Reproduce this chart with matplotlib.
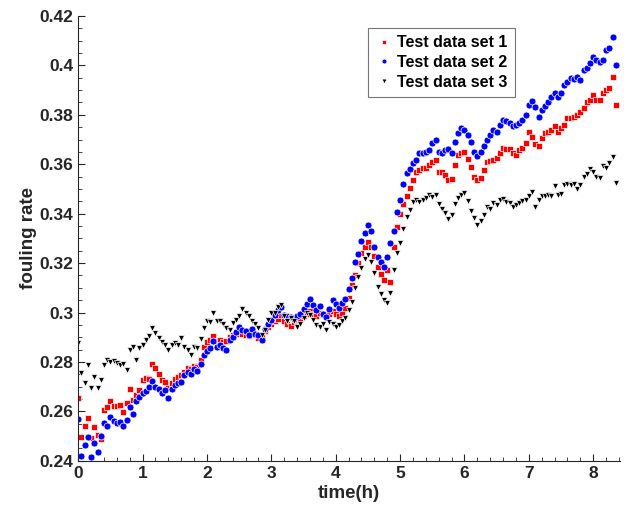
import numpy as np
import matplotlib
matplotlib.use("Agg")
import matplotlib.pyplot as plt
from matplotlib.ticker import MultipleLocator

plt.rcParams['font.family'] = ['Liberation Sans', 'DejaVu Sans']
plt.rcParams['font.weight'] = 'bold'

# fouling rate samples, one every 0.05 h from t = 0
set1 = [0.2654, 0.2498, 0.2542, 0.2572, 0.2492, 0.2538, 0.2503, 0.2490, 0.2605, 0.2617,
        0.2640, 0.2620, 0.2620, 0.2625, 0.2596, 0.2634, 0.2690, 0.2648, 0.2667, 0.2687,
        0.2728, 0.2735, 0.2730, 0.2791, 0.2775, 0.2752, 0.2728, 0.2720, 0.2694, 0.2715,
        0.2730, 0.2741, 0.2748, 0.2761, 0.2775, 0.2770, 0.2785, 0.2780, 0.2808, 0.2862,
        0.2880, 0.2890, 0.2906, 0.2885, 0.2890, 0.2880, 0.2885, 0.2900, 0.2910, 0.2915,
        0.2925, 0.2915, 0.2910, 0.2905, 0.2920, 0.2910, 0.2895, 0.2900, 0.2925, 0.2940,
        0.2955, 0.2965, 0.2975, 0.2990, 0.2965, 0.2955, 0.2945, 0.2960, 0.2970, 0.2975,
        0.2985, 0.2995, 0.3005, 0.2995, 0.2985, 0.3000, 0.2990, 0.2985, 0.2995, 0.3005,
        0.2995, 0.2985, 0.3000, 0.3018, 0.3060, 0.3110, 0.3152, 0.3200, 0.3240, 0.3267,
        0.3287, 0.3265, 0.3230, 0.3186, 0.3155, 0.3132, 0.3174, 0.3125, 0.3267, 0.3345,
        0.3400, 0.3440, 0.3470, 0.3502, 0.3537, 0.3570, 0.3577, 0.3584, 0.3584, 0.3598,
        0.3611, 0.3618, 0.3570, 0.3570, 0.3557, 0.3537, 0.3540, 0.3598, 0.3638, 0.3645,
        0.3650, 0.3620, 0.3588, 0.3550, 0.3537, 0.3545, 0.3575, 0.3610, 0.3615, 0.3618,
        0.3625, 0.3645, 0.3665, 0.3662, 0.3662, 0.3645, 0.3638, 0.3658, 0.3665, 0.3685,
        0.3732, 0.3710, 0.3680, 0.3672, 0.3706, 0.3726, 0.3732, 0.3739, 0.3753, 0.3732,
        0.3745, 0.3759, 0.3786, 0.3786, 0.3793, 0.3800, 0.3813, 0.3827, 0.3850, 0.3860,
        0.3881, 0.3860, 0.3860, 0.3890, 0.3901, 0.3910, 0.3955, 0.3840]

set2 = [0.2570, 0.2420, 0.2465, 0.2497, 0.2415, 0.2470, 0.2437, 0.2500, 0.2554, 0.2540,
        0.2578, 0.2560, 0.2553, 0.2555, 0.2540, 0.2565, 0.2618, 0.2590, 0.2643, 0.2660,
        0.2675, 0.2683, 0.2700, 0.2723, 0.2700, 0.2690, 0.2675, 0.2685, 0.2655, 0.2690,
        0.2705, 0.2715, 0.2720, 0.2748, 0.2760, 0.2750, 0.2770, 0.2765, 0.2790, 0.2830,
        0.2845, 0.2855, 0.2886, 0.2860, 0.2870, 0.2855, 0.2850, 0.2890, 0.2900, 0.2920,
        0.2943, 0.2930, 0.2925, 0.2910, 0.2935, 0.2915, 0.2910, 0.2890, 0.2935, 0.2955,
        0.2970, 0.2990, 0.3010, 0.3024, 0.2990, 0.2985, 0.2980, 0.2975, 0.2985, 0.2995,
        0.3015, 0.3035, 0.3055, 0.3030, 0.3010, 0.3025, 0.2995, 0.2980, 0.3015, 0.3050,
        0.3035, 0.3020, 0.3040, 0.3055, 0.3096, 0.3140, 0.3205, 0.3237, 0.3290, 0.3322,
        0.3355, 0.3330, 0.3265, 0.3226, 0.3206, 0.3186, 0.3226, 0.3283, 0.3328, 0.3408,
        0.3455, 0.3520, 0.3564, 0.3580, 0.3604, 0.3618, 0.3645, 0.3645, 0.3651, 0.3658,
        0.3685, 0.3699, 0.3651, 0.3645, 0.3658, 0.3660, 0.3645, 0.3692, 0.3726, 0.3746,
        0.3740, 0.3719, 0.3690, 0.3650, 0.3634, 0.3650, 0.3675, 0.3700, 0.3719, 0.3739,
        0.3732, 0.3759, 0.3780, 0.3776, 0.3766, 0.3753, 0.3759, 0.3765, 0.3780, 0.3800,
        0.3840, 0.3858, 0.3830, 0.3793, 0.3820, 0.3837, 0.3853, 0.3874, 0.3887, 0.3874,
        0.3890, 0.3920, 0.3934, 0.3948, 0.3944, 0.3955, 0.3940, 0.3982, 0.3989, 0.4008,
        0.4036, 0.4022, 0.4015, 0.4020, 0.4063, 0.4070, 0.4113, 0.4002]

set3 = [0.2876, 0.2757, 0.2714, 0.2788, 0.2694, 0.2741, 0.2694, 0.2728, 0.2788, 0.2808,
        0.2800, 0.2805, 0.2795, 0.2788, 0.2790, 0.2768, 0.2849, 0.2862, 0.2808, 0.2855,
        0.2869, 0.2889, 0.2903, 0.2937, 0.2916, 0.2896, 0.2882, 0.2869, 0.2849, 0.2869,
        0.2876, 0.2870, 0.2896, 0.2860, 0.2849, 0.2829, 0.2862, 0.2858, 0.2893, 0.2937,
        0.2964, 0.2960, 0.2998, 0.2964, 0.2964, 0.2955, 0.2937, 0.2930, 0.2957, 0.2971,
        0.2984, 0.3014, 0.2998, 0.2984, 0.2964, 0.2955, 0.2937, 0.2910, 0.2930, 0.2971,
        0.2998, 0.3000, 0.3024, 0.3031, 0.2984, 0.2964, 0.2977, 0.2965, 0.2943, 0.2955,
        0.2977, 0.2998, 0.2991, 0.2971, 0.2950, 0.2943, 0.2955, 0.2930, 0.2960, 0.2955,
        0.2943, 0.2950, 0.2964, 0.2977, 0.3011, 0.3044, 0.3100, 0.3143, 0.3180, 0.3215,
        0.3233, 0.3206, 0.3160, 0.3105, 0.3075, 0.3050, 0.3040, 0.3078, 0.3173, 0.3240,
        0.3280, 0.3340, 0.3388, 0.3415, 0.3449, 0.3455, 0.3449, 0.3455, 0.3462, 0.3476,
        0.3469, 0.3476, 0.3440, 0.3420, 0.3402, 0.3380, 0.3395, 0.3440, 0.3465, 0.3476,
        0.3483, 0.3450, 0.3409, 0.3382, 0.3355, 0.3370, 0.3395, 0.3429, 0.3420, 0.3442,
        0.3435, 0.3456, 0.3460, 0.3449, 0.3442, 0.3429, 0.3435, 0.3445, 0.3450, 0.3456,
        0.3470, 0.3489, 0.3429, 0.3456, 0.3470, 0.3470, 0.3476, 0.3470, 0.3510, 0.3476,
        0.3480, 0.3517, 0.3520, 0.3517, 0.3520, 0.3500, 0.3515, 0.3550, 0.3561, 0.3580,
        0.3570, 0.3550, 0.3545, 0.3591, 0.3585, 0.3605, 0.3629, 0.3524]

t = np.arange(len(set1)) * 0.05

ytick_vals = [0.24, 0.26, 0.28, 0.30, 0.32, 0.34, 0.36, 0.38, 0.40, 0.42]
ytick_labels = ['0.24', '0.26', '0.28', '0.3', '0.32', '0.34', '0.36', '0.38', '0.4', '0.42']

fig = plt.figure(figsize=(6.31, 5.16), dpi=100)
ax = fig.add_axes([0.124, 0.107, 0.859, 0.862])

ax.plot(t, set1, ls='none', marker='s', ms=3.8, mfc='red', mec='white', mew=0.5,
        label='Test data set 1')
ax.plot(t, set2, ls='none', marker='o', ms=5.0, mfc='blue', mec='white', mew=0.5,
        label='Test data set 2')
ax.plot(t, set3, ls='none', marker='v', ms=5.0, mfc='black', mec='white', mew=0.5,
        label='Test data set 3')

ax.set_xlim(0, 8.42)
ax.set_ylim(0.24, 0.42)
ax.set_xticks(range(9))
ax.set_yticks(ytick_vals)
ax.set_yticklabels(ytick_labels)
ax.xaxis.set_minor_locator(MultipleLocator(0.2))
ax.yaxis.set_minor_locator(MultipleLocator(0.005))
ax.tick_params(which='both', direction='in', colors='#262626', labelsize=12.5)
ax.tick_params(which='major', length=5, width=0.8)
ax.tick_params(which='minor', length=3, width=0.6)
for s in ['top', 'right']:
    ax.spines[s].set_visible(False)
for s in ['left', 'bottom']:
    ax.spines[s].set_color('#262626')

ax.set_xlabel('time(h)', fontsize=13.5, fontweight='bold', color='#262626', labelpad=3)
ax.set_ylabel('fouling rate', fontsize=13.5, fontweight='bold', color='#262626', labelpad=2)

leg = ax.legend(loc='upper left', bbox_to_anchor=(0.525, 0.984), fontsize=11.5,
                frameon=True, fancybox=False, edgecolor='#555555',
                handletextpad=0.3, handlelength=1.1, borderpad=0.45, labelspacing=0.3,
                borderaxespad=0.3, markerscale=0.7)
leg.get_frame().set_linewidth(0.8)

fig.savefig('out.png', dpi=100)
